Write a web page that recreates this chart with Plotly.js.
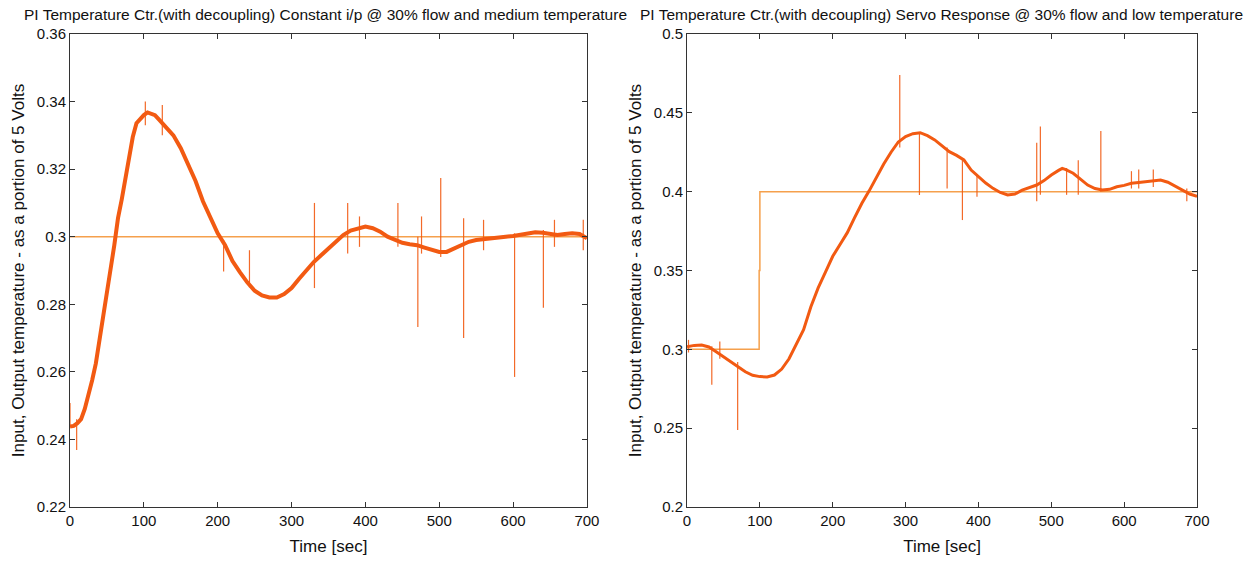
<!DOCTYPE html>
<html>
<head>
<meta charset="utf-8">
<script src="https://cdn.plot.ly/plotly-3.0.1.min.js"></script>
<style>html,body{margin:0;padding:0;background:#fff;}#chart{width:1252px;height:563px;}</style>
</head>
<body>
<div id="chart"></div>
<script>
// ---------- Left chart: constant input @ 30% flow, medium temperature ----------
const leftTitle = "PI Temperature Ctr.(with decoupling) Constant i/p @ 30% flow and medium temperature";
const leftTime = [0,5,10,15,20,25,30,35,40,45,50,55,60,65,70,75,80,85,90,95,100,105,110,115,120,130,140,150,160,170,180,190,200,210,220,230,240,250,260,270,280,290,300,310,320,330,340,350,360,370,380,390,400,410,420,430,440,450,460,470,480,490,500,510,520,530,540,550,560,570,580,590,600,610,620,630,640,650,660,670,680,690,700];
const leftOutput = [0.2438,0.2440,0.2448,0.2460,0.2490,0.2530,0.2575,0.2625,0.2700,0.2765,0.2830,0.2905,0.2975,0.3055,0.3110,0.3170,0.3230,0.3295,0.3336,0.3350,0.3360,0.3368,0.3365,0.3360,0.3348,0.3325,0.3300,0.3262,0.3215,0.3165,0.3105,0.3060,0.3010,0.2975,0.2928,0.2895,0.2865,0.2840,0.2826,0.2820,0.2820,0.2830,0.2848,0.2875,0.2900,0.2925,0.2945,0.2965,0.2985,0.3005,0.3018,0.3025,0.3030,0.3025,0.3015,0.3000,0.2990,0.2982,0.2978,0.2975,0.2968,0.2960,0.2955,0.2955,0.2965,0.2975,0.2985,0.2990,0.2993,0.2996,0.2999,0.3000,0.3002,0.3005,0.3010,0.3013,0.3012,0.3008,0.3005,0.3008,0.3010,0.3008,0.2995];
const leftInputTime = [0,700];
const leftInput = [0.3,0.3];
// measurement spikes: time, low value, high value
const leftSpikeTime = [0,9,102,125,208,243,331,376,392,444,471,476,502,533,560,602,641,656,695];
const leftSpikeLow  = [0.2435,0.2369,0.333,0.330,0.2897,0.285,0.2848,0.295,0.297,0.297,0.2733,0.295,0.294,0.270,0.296,0.2585,0.279,0.297,0.296];
const leftSpikeHigh = [0.2508,0.2460,0.340,0.339,0.299,0.296,0.310,0.310,0.306,0.310,0.300,0.306,0.3174,0.3055,0.305,0.301,0.302,0.305,0.305];

// ---------- Right chart: servo response @ 30% flow, low temperature ----------
const rightTitle = "PI Temperature Ctr.(with decoupling) Servo Response @ 30% flow and low temperature";
const rightTime = [0,10,20,30,40,50,60,70,80,90,100,110,120,130,140,150,160,170,180,190,200,210,220,230,240,250,260,270,280,290,300,310,320,330,340,350,360,370,380,390,400,410,420,430,440,450,460,470,480,490,500,510,515,520,530,540,550,560,570,580,590,600,610,620,630,640,650,660,670,680,690,700];
const rightOutput = [0.3017,0.3025,0.3027,0.3015,0.2985,0.2955,0.2922,0.2890,0.2858,0.2835,0.2827,0.2825,0.2837,0.2875,0.2940,0.3030,0.3125,0.3270,0.3390,0.3490,0.3590,0.3665,0.3740,0.3835,0.3926,0.4005,0.4095,0.4175,0.4250,0.4315,0.4350,0.4368,0.4374,0.4355,0.4328,0.4290,0.4254,0.4230,0.4201,0.4137,0.4095,0.4055,0.4021,0.3995,0.3979,0.3985,0.4010,0.4025,0.4042,0.4070,0.4106,0.4135,0.4148,0.4140,0.4117,0.4080,0.4042,0.4020,0.4010,0.4015,0.4031,0.4040,0.4053,0.4058,0.4063,0.4068,0.4074,0.4060,0.4036,0.4010,0.3985,0.3970];
const rightInputTime = [0,99,99,100,100,700];
const rightInput = [0.3,0.3,0.35,0.35,0.4,0.4];
const rightSpikeTime = [2,34,45,69.5,292,319,357,378,398,480,485,521,537,568,610,620,640,686];
const rightSpikeLow  = [0.298,0.2775,0.294,0.2488,0.428,0.3979,0.402,0.382,0.3968,0.394,0.398,0.398,0.398,0.400,0.402,0.402,0.403,0.394];
const rightSpikeHigh = [0.306,0.302,0.305,0.292,0.474,0.437,0.428,0.420,0.411,0.431,0.4413,0.415,0.420,0.4385,0.413,0.414,0.414,0.402];

// ---------- shared labels ----------
const xLabel = "Time [sec]";
const yLabel = "Input, Output temperature - as a portion of 5 Volts";

const OUT_COLOR = '#f25a12';
const IN_COLOR = '#f5a04c';
const FONT = "'Liberation Sans', Arial, sans-serif";
const FS = 15;
const TFS = 15.5;
const AFS = 17;

function spikeTrace(t, lo, hi, xa, ya) {
  const xs = [], ys = [];
  for (let i = 0; i < t.length; i++) { xs.push(t[i], t[i], null); ys.push(lo[i], hi[i], null); }
  return {x: xs, y: ys, xaxis: xa, yaxis: ya, mode: 'lines', line: {color: OUT_COLOR, width: 1.2}, opacity: 0.9, hoverinfo: 'skip', showlegend: false};
}

const traces = [
  {x: leftInputTime, y: leftInput, xaxis: 'x', yaxis: 'y', mode: 'lines', line: {color: IN_COLOR, width: 1.5}, showlegend: false, name: 'Input'},
  spikeTrace(leftSpikeTime, leftSpikeLow, leftSpikeHigh, 'x', 'y'),
  {x: leftTime, y: leftOutput, xaxis: 'x', yaxis: 'y', mode: 'lines', line: {color: OUT_COLOR, width: 4}, showlegend: false, name: 'Output'},
  {x: rightInputTime, y: rightInput, xaxis: 'x2', yaxis: 'y2', mode: 'lines', line: {color: IN_COLOR, width: 1.5}, showlegend: false, name: 'Input'},
  spikeTrace(rightSpikeTime, rightSpikeLow, rightSpikeHigh, 'x2', 'y2'),
  {x: rightTime, y: rightOutput, xaxis: 'x2', yaxis: 'y2', mode: 'lines', line: {color: OUT_COLOR, width: 3}, showlegend: false, name: 'Output'}
];

const axisCommon = {
  showgrid: false, zeroline: false, showline: true, mirror: 'ticks', linecolor: '#333', linewidth: 1,
  ticks: 'inside', ticklen: 5, tickcolor: '#333', tickwidth: 1,
  tickfont: {family: FONT, size: FS, color: '#111'}
};

const layout = {
  width: 1252, height: 563,
  margin: {l: 70, r: 55, t: 34, b: 56},
  paper_bgcolor: '#fff', plot_bgcolor: '#fff',
  font: {family: FONT, size: FS, color: '#111'},
  showlegend: false,
  xaxis: Object.assign({}, axisCommon, {domain: [0, 0.4587], range: [0, 700], tick0: 0, dtick: 100, anchor: 'y',
    title: {text: xLabel, standoff: 12, font: {family: FONT, size: AFS, color: '#111'}}}),
  yaxis: Object.assign({}, axisCommon, {range: [0.22, 0.36], tick0: 0.22, dtick: 0.02, anchor: 'x',
    title: {text: yLabel, standoff: 7, font: {family: FONT, size: AFS, color: '#111'}}}),
  xaxis2: Object.assign({}, axisCommon, {domain: [0.5475, 1], range: [0, 700], tick0: 0, dtick: 100, anchor: 'y2',
    title: {text: xLabel, standoff: 12, font: {family: FONT, size: AFS, color: '#111'}}}),
  yaxis2: Object.assign({}, axisCommon, {range: [0.2, 0.5], tick0: 0.2, dtick: 0.05, anchor: 'x2',
    title: {text: yLabel, standoff: 7, font: {family: FONT, size: AFS, color: '#111'}}}),
  annotations: [
    {text: leftTitle, xref: 'paper', yref: 'paper', x: 0.2263, y: 1.042, xanchor: 'center', yanchor: 'middle', showarrow: false, font: {family: FONT, size: TFS, color: '#111'}},
    {text: rightTitle, xref: 'paper', yref: 'paper', x: 0.7737, y: 1.042, xanchor: 'center', yanchor: 'middle', showarrow: false, font: {family: FONT, size: TFS, color: '#111'}}
  ]
};

Plotly.newPlot('chart', traces, layout, {staticPlot: true, displayModeBar: false});
</script>
</body>
</html>
